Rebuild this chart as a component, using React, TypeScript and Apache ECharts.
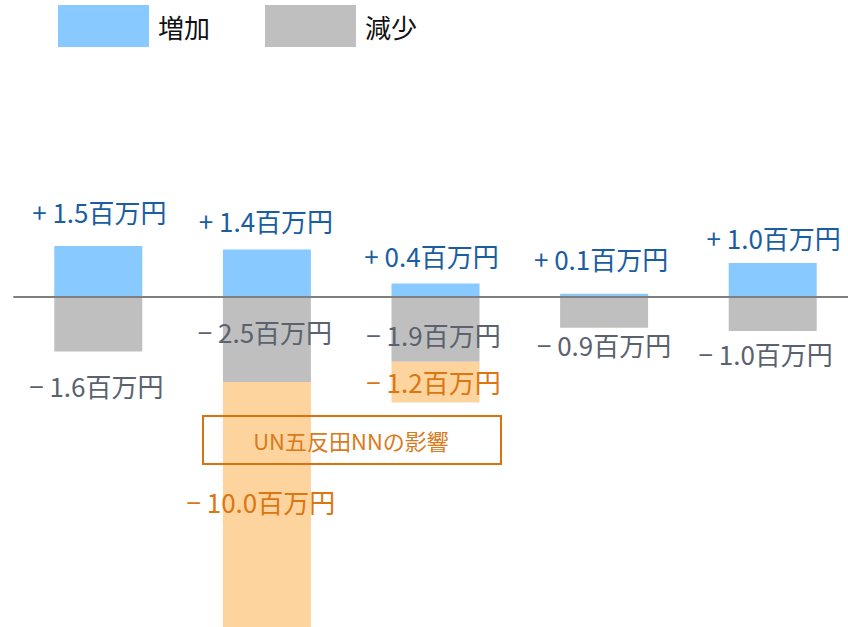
import React, { useEffect, useRef } from "react";
import * as echarts from "echarts";

const categories = ["A", "B", "C", "D", "E"];
const increase = [1.5, 1.4, 0.4, 0.1, 1.0];
const decrease = [-1.6, -2.5, -1.9, -0.9, -1.0];
const unImpact: (number | null)[] = [null, -10.0, -1.2, null, null];
const legendNames = ["増加", "減少"];
const boxText = "UN五反田NNの影響";

const FONT = "'Noto Sans CJK JP', 'Noto Sans', sans-serif";

function fmt(v: number) {
  const s = Math.abs(v).toFixed(1);
  return (v >= 0 ? "+ " : "− ") + s + "百万円";
}

export default function App() {
  const ref = useRef<HTMLDivElement>(null);
  useEffect(() => {
    if (!ref.current) return;
    const chart = echarts.init(ref.current, null, { renderer: "svg" });
    const incOff = [[1, -22], [-1, -16], [-4, -15], [-3, -22], [1, -13]];
    const decOff = [[-2, 21], [-2, -64], [-2, -40], [0, 4], [-7, 9]];
    const unOff = [null, [-6, 106], [-2, 7], null, null];
    const labelBase = { show: true, fontSize: 26, fontFamily: FONT, distance: 0 };
    chart.setOption({
      animation: false,
      legend: {
        data: legendNames,
        left: 58,
        top: 5,
        padding: 0,
        itemWidth: 91,
        itemHeight: 42,
        itemGap: 55,
        icon: "rect",
        textStyle: { fontSize: 26, fontFamily: FONT, color: "#111", padding: [2, 0, 0, 4] },
        selectedMode: false,
      },
      grid: { left: 14, top: 127, right: 0, height: 500 },
      xAxis: {
        type: "category",
        data: categories,
        axisLine: { show: true, onZero: true, lineStyle: { color: "#7f7f7f", width: 2 } },
        axisTick: { show: false },
        axisLabel: { show: false },
        splitLine: { show: false },
        z: 10,
      },
      yAxis: {
        type: "value",
        min: -9.7,
        max: 5,
        show: false,
        splitLine: { show: false },
      },
      series: [
        {
          name: "増加",
          type: "bar",
          stack: "s",
          barWidth: 88,
          itemStyle: { color: "#88caff" },
          data: increase.map((v, i) => ({
            value: v,
            label: {
              ...labelBase,
              position: "top",
              offset: incOff[i],
              color: "#1a5ea0",
              formatter: () => fmt(v),
            },
          })),
        },
        {
          name: "減少",
          type: "bar",
          stack: "s",
          barWidth: 88,
          itemStyle: { color: "#bfbfbf" },
          data: decrease.map((v, i) => ({
            value: v,
            label: {
              ...labelBase,
              position: "bottom",
              offset: decOff[i],
              color: "#5a6270",
              formatter: () => fmt(v),
            },
          })),
        },
        {
          name: "UN",
          type: "bar",
          stack: "s",
          barWidth: 88,
          itemStyle: { color: "#fed49e" },
          data: unImpact.map((v, i) =>
            v == null
              ? null
              : {
                  value: v,
                  label: {
                    ...labelBase,
                    position: "insideTop",
                    offset: unOff[i],
                    color: "#db7612",
                    formatter: () => fmt(v),
                  },
                }
          ),
        },
      ],
      graphic: [
        {
          type: "rect",
          left: 202,
          top: 415,
          shape: { width: 298, height: 48 },
          style: { fill: "transparent", stroke: "#d9730d", lineWidth: 2 },
          z: 20,
        },
        {
          type: "text",
          x: 351,
          y: 440,
          style: {
            text: boxText,
            fontSize: 22,
            fontFamily: FONT,
            fill: "#da7a1c",
            align: "center",
            verticalAlign: "middle",
          },
          z: 20,
        },
      ],
    });
    return () => chart.dispose();
  }, []);
  return (
    <div style={{ position: "absolute", left: 0, top: 0, width: 848, height: 627, overflow: "hidden" }}>
      <div ref={ref} style={{ width: 857, height: 627 }} />
    </div>
  );
}
